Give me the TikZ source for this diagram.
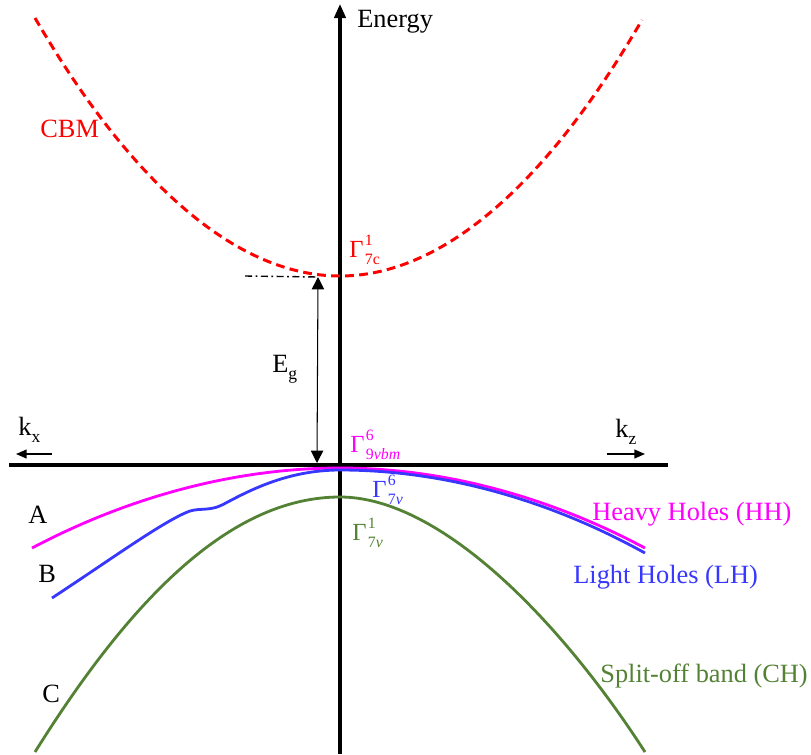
\documentclass[tikz,border=0pt]{standalone}
\usepackage{fontspec}
\setmainfont{Liberation Serif}
\usepackage{tikz}
\usetikzlibrary{arrows.meta}

\definecolor{cbmred}{RGB}{255,0,0}
\definecolor{hhmag}{RGB}{255,0,255}
\definecolor{lhblue}{RGB}{55,55,255}
\definecolor{chgreen}{RGB}{84,130,53}

% rótulos Gamma com índices
\newcommand{\gamlbl}[2]{Γ\kern0.8pt\rlap{\raisebox{6.4pt}{\fontsize{9}{10}\selectfont #1}}\raisebox{-4.5pt}{\fontsize{9}{10}\selectfont #2}}
\newcommand{\subidx}[2]{#1\raisebox{-0.3em}{\fontsize{10}{12}\selectfont #2}}

\begin{document}
\begin{tikzpicture}[x=0.02cm, y=-0.02cm,
    every node/.style={inner sep=0pt, anchor=base west, font=\fontsize{15}{18}\selectfont},
    gam/.style={font=\fontsize{14}{16}\selectfont},
    eixo/.style={line width=1.8pt},
    band/.style={line width=1.6pt}]
    \useasboundingbox (0,0) rectangle (811,754);

    % Eixos
    \coordinate (ebot) at (340,754);
    \coordinate (etop) at (340,4);
    \coordinate (kleft) at (9,465);
    \coordinate (kright) at (668,465);
    \draw[eixo, -{Triangle[length=8pt,width=6.5pt]}] (ebot) -- (etop);
    \draw[eixo] (kleft) -- (kright);
    \node (energy) at (357,27) {Energy};

    % Direções k
    \coordinate (kxa) at (52,454);
    \coordinate (kxb) at (16,454);
    \coordinate (kza) at (607,454);
    \coordinate (kzb) at (645,454);
    \draw[line width=0.8pt, -{Triangle[length=6pt,width=5pt]}] (kxa) -- (kxb);
    \draw[line width=0.8pt, -{Triangle[length=6pt,width=5pt]}] (kza) -- (kzb);
    \node (kx) at (18,435) {\subidx{k}{x}};
    \node (kz) at (615,437) {\subidx{k}{z}};

    % Banda de condução
    \draw[cbmred, line width=1.7pt, dash pattern=on 5pt off 3pt] (35,18) parabola bend (340,276) (642,20);
    \node[text=cbmred] (cbm) at (40,137) {CBM};
    \node[gam, text=cbmred] (g7c) at (349,257) {\gamlbl{1}{7c}};

    % Gap
    \coordinate (cmin) at (318,277);
    \coordinate (vmax) at (317,463);
    \coordinate (dl) at (245,276);
    \draw[line width=0.8pt, dash pattern=on 4pt off 2pt on 1pt off 2pt] (dl) -- (cmin);
    \draw[line width=0.6pt, {Triangle[length=7pt,width=7pt]}-{Triangle[length=7pt,width=7pt]}] (cmin) -- (vmax);
    \node (eg) at (272,372) {\subidx{E}{g}};

    % Bandas de valência
    \draw[band, hhmag] (32,548) parabola bend (340,468) (645,548);
    \draw[band, lhblue] (52,598) .. controls (110,560) and (165,520) .. (190,511)
        .. controls (200,508) and (210,511) .. (222,505)
        .. controls (245,493) and (285,470) .. (340,470) parabola (645,553);
    \draw[band, chgreen] (35,752) .. controls (130,600) and (230,497) .. (340,497)
        .. controls (440,497) and (560,620) .. (645,752);

    \node[gam, text=hhmag] (g9) at (350,452) {\gamlbl{6}{9\textit{vbm}}};
    \node[gam, text=lhblue] (g7b) at (372,497) {\gamlbl{6}{7\textit{v}}};
    \node[gam, text=chgreen] (g7g) at (352,540) {\gamlbl{1}{7\textit{v}}};

    \node (a) at (28,523) {A};
    \node (b) at (38,582) {B};
    \node (c) at (42,702) {C};
    \node[text=hhmag] (hh) at (592,520) {Heavy Holes (HH)};
    \node[text=lhblue] (lh) at (573,583) {Light Holes (LH)};
    \node[text=chgreen] (ch) at (600,682) {Split-off band (CH)};
\end{tikzpicture}
\end{document}
